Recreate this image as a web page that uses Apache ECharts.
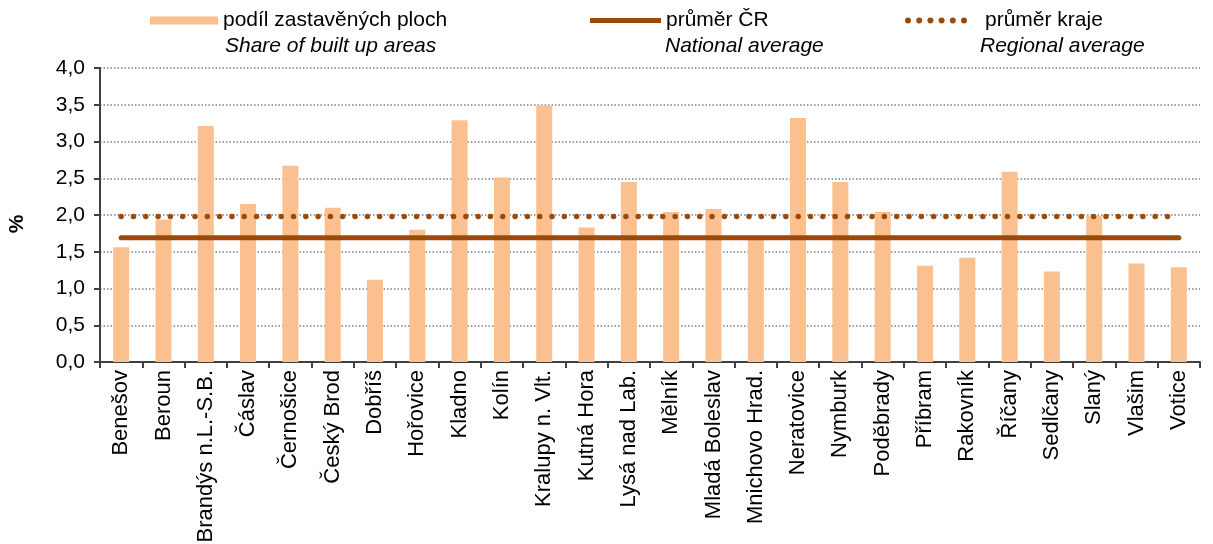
<!DOCTYPE html>
<html>
<head>
<meta charset="utf-8">
<script src="https://cdn.jsdelivr.net/npm/echarts@6/dist/echarts.min.js"></script>
<style>
html,body{margin:0;padding:0;background:#fff;}
#chart{width:1213px;height:544px;}
</style>
</head>
<body>
<div id="chart"></div>
<script>
const categories = ["Benešov","Beroun","Brandýs n.L.-S.B.","Čáslav","Černošice","Český Brod","Dobříš","Hořovice","Kladno","Kolín","Kralupy n. Vlt.","Kutná Hora","Lysá nad Lab.","Mělník","Mladá Boleslav","Mnichovo Hrad.","Neratovice","Nymburk","Poděbrady","Příbram","Rakovník","Říčany","Sedlčany","Slaný","Vlašim","Votice"];
const builtUpShare = [1.56,1.94,3.21,2.15,2.67,2.10,1.12,1.80,3.29,2.51,3.49,1.83,2.45,2.04,2.08,1.69,3.32,2.45,2.04,1.31,1.42,2.59,1.23,1.99,1.34,1.29];
const nationalAverage = categories.map(() => 1.69);
const regionalAverage = categories.map(() => 1.98);
const yTicks = ["0,0","0,5","1,0","1,5","2,0","2,5","3,0","3,5","4,0"];
const seriesNamesCz = ["podíl zastavěných ploch","průměr ČR","průměr kraje"];
const seriesNamesEn = ["Share of built up areas","National average","Regional average"];

const BAR = '#FAC090', BROWN = '#9C4A0A';
const FONT = 'Liberation Sans, Arial, sans-serif';
const chart = echarts.init(document.getElementById('chart'), null, {renderer:'canvas'});
const legendText = {fontFamily: FONT, fontSize: 21, color: '#000'};
// six round dots icon
let dots = '';
for (let i = 0; i < 6; i++) { const cx = 3 + i * 11.2; dots += 'M' + (cx - 3) + ',3 a3,3 0 1,0 6,0 a3,3 0 1,0 -6,0 '; }
chart.setOption({
  animation: false,
  grid: {left: 100, right: 13, top: 68, bottom: 182, containLabel: false, outerBoundsMode: 'none'},
  legend: [
    {data: [{name: seriesNamesCz[0], icon: 'rect'}], left: 150, top: 10, padding: 0, itemWidth: 68, itemHeight: 8, textStyle: legendText, selectedMode: false},
    {data: [{name: seriesNamesCz[1], icon: 'rect', itemStyle: {color: BROWN}}], left: 590, top: 10, padding: 0, itemWidth: 71, itemHeight: 5, textStyle: legendText, selectedMode: false},
    {data: [{name: seriesNamesCz[2], icon: 'path://' + dots, itemStyle: {color: BROWN}}], left: 905, top: 10, padding: 0, itemWidth: 62, itemHeight: 6, textStyle: Object.assign({}, legendText, {padding: [0, 0, 0, 13]}), selectedMode: false}
  ],
  graphic: [
    {type: 'text', left: 225, top: 36, style: {text: seriesNamesEn[0], font: 'italic 21px ' + FONT, fill: '#000'}},
    {type: 'text', left: 665, top: 36, style: {text: seriesNamesEn[1], font: 'italic 21px ' + FONT, fill: '#000'}},
    {type: 'text', left: 980, top: 36, style: {text: seriesNamesEn[2], font: 'italic 21px ' + FONT, fill: '#000'}}
  ],
  xAxis: {
    type: 'category', data: categories, boundaryGap: true,
    axisLine: {lineStyle: {color: '#404040', width: 2}},
    axisTick: {show: true, alignWithLabel: false, length: 6, lineStyle: {color: '#404040', width: 2}},
    axisLabel: {rotate: 90, interval: 0, fontFamily: FONT, fontSize: 22, color: '#000', margin: 8}
  },
  yAxis: {
    type: 'value', min: 0, max: 4, interval: 0.5,
    name: '%', nameLocation: 'middle', nameGap: 72, nameRotate: 90,
    nameTextStyle: {fontFamily: FONT, fontSize: 21, fontWeight: 'bold', color: '#000', padding: [0, 18, 0, 0]},
    axisLine: {show: true, lineStyle: {color: '#404040', width: 2}},
    axisTick: {show: true, length: 6, lineStyle: {color: '#404040', width: 2}},
    axisLabel: {fontFamily: FONT, fontSize: 21, color: '#000', margin: 15,
      formatter: (v) => yTicks[Math.round(v / 0.5)]},
    splitLine: {show: true, lineStyle: {color: '#808080', width: 1.5, type: [1.5, 2]}}
  },
  series: [
    {name: seriesNamesCz[0], type: 'bar', data: builtUpShare, barWidth: 16,
      itemStyle: {color: BAR}, z: 1},
    {name: seriesNamesCz[1], type: 'line', data: nationalAverage, symbol: 'none',
      lineStyle: {color: BROWN, width: 5, cap: 'round'}, itemStyle: {color: BROWN}, z: 3},
    {name: seriesNamesCz[2], type: 'line', data: regionalAverage, symbol: 'none',
      lineStyle: {color: BROWN, width: 5.5, type: [0.01, 12.3], cap: 'round'}, itemStyle: {color: BROWN}, z: 3}
  ]
});
</script>
</body>
</html>
